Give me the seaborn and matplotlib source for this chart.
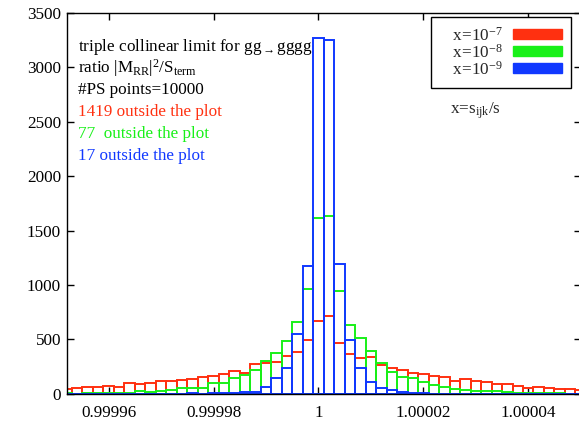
import numpy as np
import pandas as pd
import matplotlib
matplotlib.use("Agg")
import matplotlib.pyplot as plt
import seaborn as sns
from matplotlib.patches import Patch

# ---- data ----
bin_index = list(range(-24, 26))          # bins of width 2e-6 centred on 1 + i*2e-6
bin_width = 2e-6

red_counts = [40, 49, 61, 58, 67, 66, 95, 89, 101, 116, 113, 126, 135, 153, 162, 181,
              205, 187, 276, 285, 290, 343, 385, 490,
              668, 716,
              465, 361, 325, 340, 260, 239, 217, 187, 180, 163, 152, 116, 135, 116,
              107, 92, 92, 73, 55, 58, 55, 46, 43, 34]
green_counts = [2, 1, 2, 3, 4, 3, 5, 25, 12, 22, 34, 49, 52, 55, 95, 98,
                144, 172, 217, 302, 374, 484, 655, 961,
                1611, 1638,
                940, 634, 511, 395, 285, 195, 153, 141, 107, 77, 65, 46, 34, 25,
                21, 25, 12, 6, 9, 6, 3, 2, 1, 1]
blue_counts = [0, 0, 0, 0, 0, 0, 0, 0, 1, 0, 1, 1, 2, 1, 2, 3,
               5, 12, 14, 58, 144, 236, 545, 1170,
               3274, 3249,
               1191, 493, 233, 107, 57, 32, 12, 3, 2, 1, 1, 0, 0, 0,
               0, 0, 0, 0, 0, 0, 0, 0, 0, 0]

series_labels = [r"   x=10$^{-7}$", r"   x=10$^{-8}$", r"   x=10$^{-9}$"]
series_colors = ["#ff3010", "#18f018", "#1038ff"]

x_ticks = [0.99996, 0.99998, 1.0, 1.00002, 1.00004]
x_tick_labels = ["0.99996", "0.99998", "1", "1.00002", "1.00004"]
y_ticks = [0, 500, 1000, 1500, 2000, 2500, 3000, 3500]

info_lines = [
    (r"triple collinear limit for gg$_{\rightarrow}$gggg", "black"),
    (r"ratio $|$M$_{\mathrm{RR}}|^2$/S$_{\mathrm{term}}$", "black"),
    ("#PS points=10000", "black"),
    ("1419 outside the plot", series_colors[0]),
    ("77  outside the plot", series_colors[1]),
    ("17 outside the plot", series_colors[2]),
]

# ---- style ----
sns.set_style("ticks")
plt.rcParams["font.family"] = ["Liberation Serif", "DejaVu Serif"]
plt.rcParams["mathtext.fontset"] = "custom"
plt.rcParams["mathtext.rm"] = "Liberation Serif"
plt.rcParams["mathtext.it"] = "Liberation Serif:italic"
plt.rcParams["mathtext.bf"] = "Liberation Serif:bold"
plt.rcParams["mathtext.default"] = "rm"

FS = 12.3
W, H = 579, 423
fig = plt.figure(figsize=(W / 100, H / 100), dpi=100)
left_px, right_px, top_px, bot_px = 66.7, 580.7, 13.0, 393.7
ax = fig.add_axes([left_px / W, 1 - bot_px / H, (right_px - left_px) / W, (bot_px - top_px) / H])

centers = 1.0 + np.array(bin_index) * bin_width
edges = [float(e) for e in np.append(centers - bin_width / 2, centers[-1] + bin_width / 2)]

for counts, color in zip([red_counts, green_counts, blue_counts], series_colors):
    df = pd.DataFrame({"x": centers, "count": counts})
    sns.histplot(data=df, x="x", weights="count", bins=edges, element="bars",
                 fill=False, color=color, linewidth=1.4, ax=ax)

ax.set_xlim(0.999952, 1.00005)
ax.set_ylim(0, 3500)
ax.set_xticks(x_ticks, x_tick_labels)
ax.set_yticks(y_ticks, [str(v) for v in y_ticks])
ax.set_xlabel("")
ax.set_ylabel("")
ax.tick_params(axis="both", direction="in", length=5, width=1, top=True, right=True,
               labelsize=FS, colors="black")
ax.tick_params(axis="y", pad=4)
ax.tick_params(axis="x", pad=8)
for s in ax.spines.values():
    s.set_visible(True)
    s.set_linewidth(1.0)
    s.set_color("black")

# info text block
baselines = [51, 73, 94.5, 116.5, 138, 159.5]
for (txt, col), yb in zip(info_lines, baselines):
    fig.text(78.5 / W, 1 - yb / H, txt, color=col, fontsize=FS, ha="left", va="baseline")

fig.text(450 / W, 1 - 114 / H, r"x=s$_{\mathrm{ijk}}$/s", fontsize=FS, ha="left", va="baseline")

handles = [Patch(facecolor=c, edgecolor=c) for c in series_colors]
leg = ax.legend(handles, series_labels, loc="upper right",
                bbox_to_anchor=((571 - left_px) / (right_px - left_px), (bot_px - 17) / (bot_px - top_px)),
                fontsize=FS, markerfirst=False, frameon=True, fancybox=False,
                framealpha=1, edgecolor="black", handlelength=2.85, handleheight=0.55,
                labelspacing=-0.05, borderpad=0.55, handletextpad=0.6, borderaxespad=0)
leg.get_frame().set_linewidth(1.0)

fig.savefig("out.png", dpi=100)
